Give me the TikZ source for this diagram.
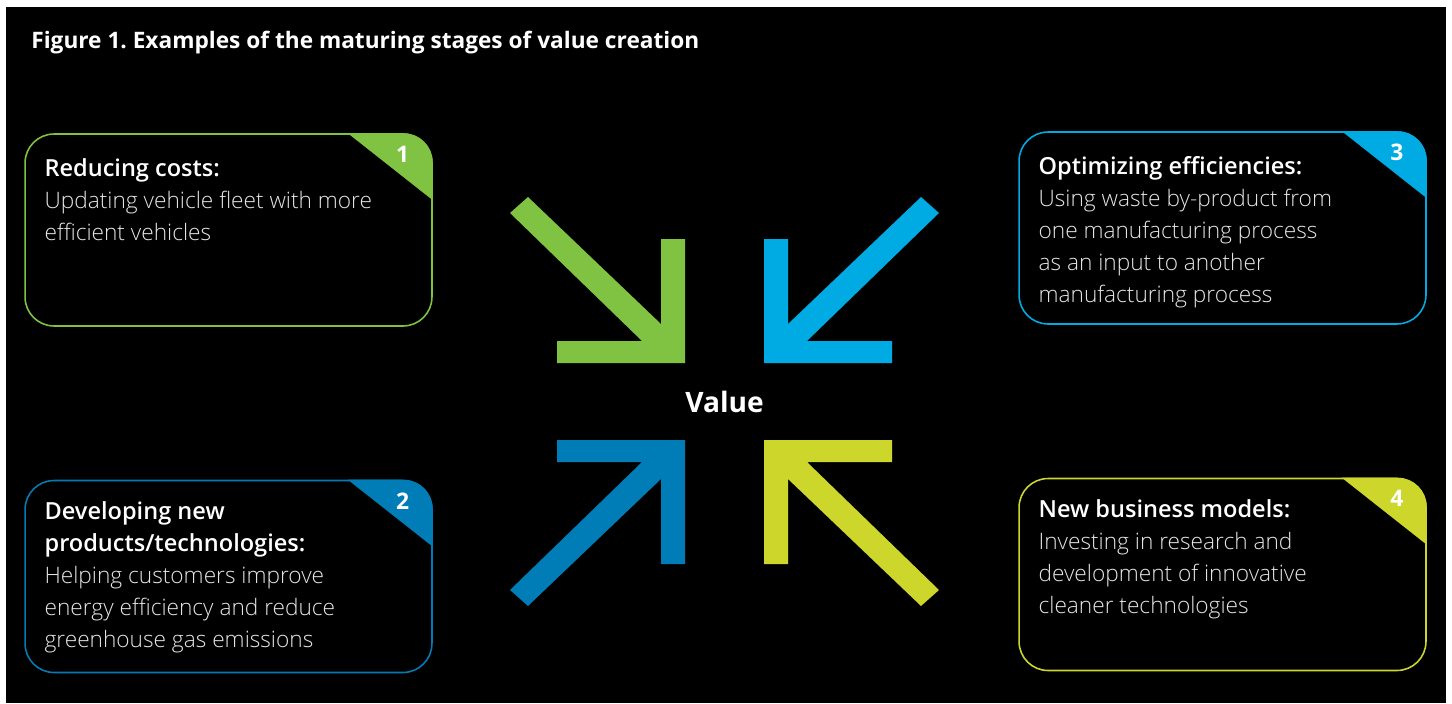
\documentclass[tikz,border=0pt]{standalone}
\usepackage{fontspec}
\setmainfont{Open Sans}
\newfontfamily\lightfont{Open Sans Light}
\usetikzlibrary{positioning}
\definecolor{grn}{RGB}{128,194,66}
\definecolor{cyn}{RGB}{0,171,228}
\definecolor{dblu}{RGB}{0,124,182}
\definecolor{lime}{RGB}{205,214,43}
\definecolor{bodygrey}{RGB}{230,230,230}
\newcommand{\cardhead}[1]{{\color{white}\bfseries\fontsize{13.4}{18.2}\selectfont #1}}
\tikzset{
  card/.style={draw=#1, line width=0.9pt, rounded corners=0.58cm, minimum width=8.14cm, minimum height=3.84cm, inner sep=0pt},
  cardtext/.style={anchor=north west, text=bodygrey, align=left, inner sep=0pt, font=\lightfont\fontsize{12.9}{18.2}\selectfont},
  badge/.style={text=white, inner sep=0pt, font=\bfseries\fontsize{13}{14}\selectfont},
}
\begin{document}
\frenchspacing
\begin{tikzpicture}[x=0.02cm, y=-0.02cm]
  \useasboundingbox (0,0) rectangle (1452,703);
  % Background
  \fill[white] (0,0) rectangle (1452,703);
  \fill[black] (6,7) rectangle (1446,703);
  % Title
  \node[anchor=base west, text=white, inner sep=0pt, font=\bfseries\fontsize{12.9}{14}\selectfont] (title) at (31,48) {Figure 1. Examples of the maturing stages of value creation};
  % Four cards with a numbered corner
  \foreach \n/\cx/\cy/\col in {1/228.5/230/grn, 2/228.5/576.5/dblu, 3/1222.5/228/cyn, 4/1222.5/574.5/lime} {
    \node[card=\col] (b\n) at (\cx,\cy) {};
    \fill[\col] ([xshift=-1.7cm]b\n.north east) [rounded corners=0.58cm] -- (b\n.north east) [sharp corners] -- ([yshift=-1.34cm]b\n.north east) -- cycle;
    \node[badge] (n\n) at ([xshift=-0.6cm,yshift=-0.42cm]b\n.north east) {\n};
  }
  % Card texts
  \node[cardtext] (t1) at ([xshift=0.4cm,yshift=-0.5cm]b1.north west) {\cardhead{Reducing costs:}\\Updating vehicle fleet with more\\efficient vehicles};
  \node[cardtext] (t2) at ([xshift=0.4cm,yshift=-0.44cm]b2.north west) {\cardhead{Developing new}\\\cardhead{products/technologies:}\\Helping customers improve\\energy efficiency and reduce\\greenhouse gas emissions};
  \node[cardtext] (t3) at ([xshift=0.4cm,yshift=-0.5cm]b3.north west) {\cardhead{Optimizing efficiencies:}\\Using waste by-product from\\one manufacturing process\\as an input to another\\manufacturing process};
  \node[cardtext] (t4) at ([xshift=0.4cm,yshift=-0.44cm]b4.north west) {\cardhead{New business models:}\\Investing in research and\\development of innovative\\cleaner technologies};
  % Arrows pointing to the centre
  \foreach \sx/\sy/\col in {1/1/grn, -1/1/cyn, 1/-1/dblu, -1/-1/lime} {
    \fill[\col, shift={(724.5,401.5)}, xscale=\sx, yscale=\sy]
      (-196.5,-204.5) -- (-63.5,-77.5) -- (-63.5,-162.5) -- (-39.5,-162.5) -- (-39.5,-38.5)
      -- (-167.5,-38.5) -- (-167.5,-60.5) -- (-82.5,-60.5) -- (-214.5,-188.5) -- cycle;
  }
  \node[text=white, font=\bfseries\fontsize{16}{18}\selectfont] (value) at (724.5,402) {Value};
\end{tikzpicture}
\end{document}
